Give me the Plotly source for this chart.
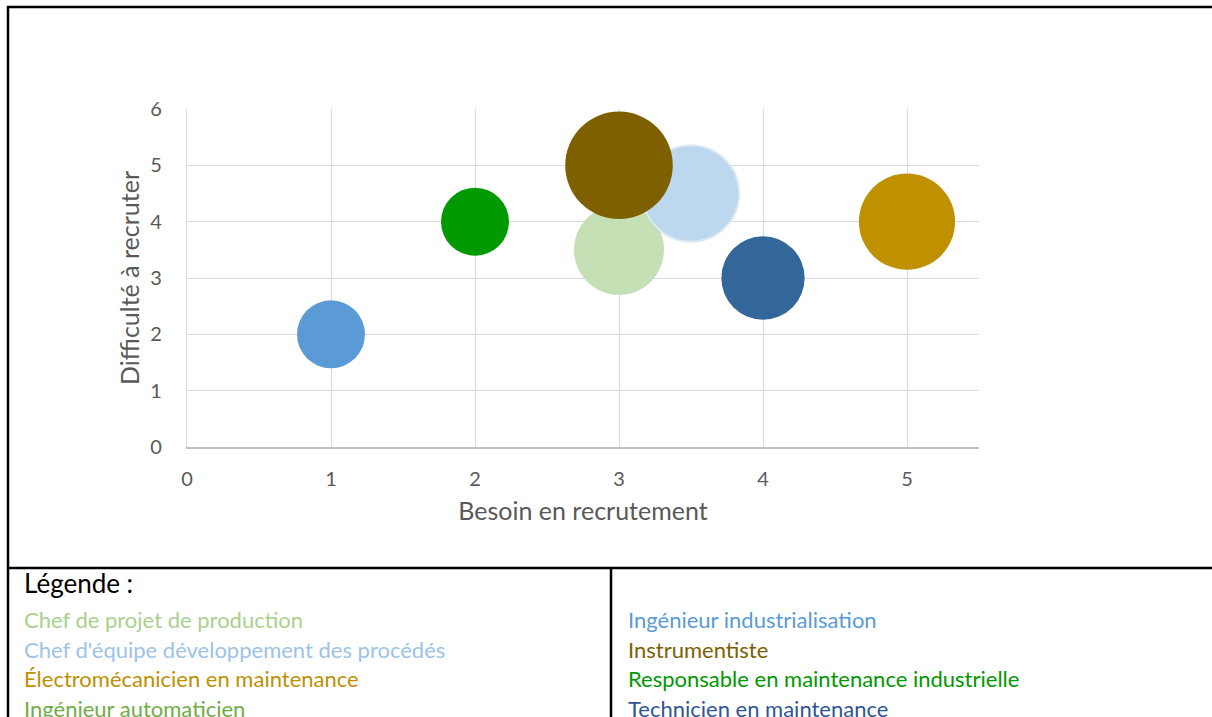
import plotly.graph_objects as go

# données
metiers = [
    "Chef de projet de production",
    "Chef d'équipe développement des procédés",
    "Électromécanicien en maintenance",
    "Ingénieur automaticien",
    "Ingénieur industrialisation",
    "Instrumentiste",
    "Responsable en maintenance industrielle",
    "Technicien en maintenance",
]
besoin = [3, 3.5, 5, 3, 1, 3, 2, 4]
difficulte = [3.5, 4.5, 4, 5, 2, 5, 4, 3]
taille = [3.5, 4, 4, 2, 2, 5, 2, 3]

couleurs_bulles = ["#C5E0B4", "#BDD7EE", "#BF9000", "#70AD47",
                   "#5B9BD5", "#7F6000", "#009900", "#336699"]
couleurs_texte = ["#A9D18E", "#9DC3E6", "#BF9000", "#70AD47",
                  "#5B9BD5", "#7F6000", "#009900", "#2F5597"]

W, H = 1212, 717
L, R, T, B = 187, 233, 109, 270
PW, PH = W - L - R, H - T - B


def px(x):
    return (x - L) / PW


def py(y):
    return (H - B - y) / PH


FONT = "Lato"
GRIS = "#595959"

fig = go.Figure()
for i, nom in enumerate(metiers):
    ligne = dict(width=0)
    if i == 1:
        ligne = dict(width=2, color="#DAE8F5")
    fig.add_trace(go.Scatter(
        x=[besoin[i]], y=[difficulte[i]],
        mode="markers",
        name=nom,
        marker=dict(size=[taille[i]], sizemode="area", sizeref=1 / 1156,
                    color=couleurs_bulles[i], opacity=1, line=ligne),
        hoverinfo="name",
    ))

# cadre du tableau
shapes = []
for x0, y0, x1, y1 in [(7, 7, 1215, 7), (8, 6, 8, 720), (8, 568, 1215, 568), (611, 568, 611, 720)]:
    shapes.append(dict(type="line", xref="paper", yref="paper",
                       x0=px(x0), y0=py(y0), x1=px(x1), y1=py(y1),
                       line=dict(color="black", width=2.5)))

# légende
annotations = [dict(text="Légende :", xref="paper", yref="paper",
                    x=px(22), y=py(583), xanchor="left", yanchor="middle",
                    showarrow=False, font=dict(family=FONT, size=26, color="black"))]
for i, nom in enumerate(metiers):
    col, row = divmod(i, 4)
    annotations.append(dict(
        text=nom, xref="paper", yref="paper",
        x=px(22 + col * 604), y=py(619.5 + row * 29.5),
        xanchor="left", yanchor="middle", showarrow=False,
        font=dict(family=FONT, size=22, color=couleurs_texte[i])))

fig.update_layout(
    width=W, height=H,
    margin=dict(l=L, r=R, t=T, b=B),
    paper_bgcolor="white", plot_bgcolor="white",
    showlegend=False,
    font=dict(family=FONT, color=GRIS),
    xaxis=dict(
        range=[0, 5.5], tickvals=[0, 1, 2, 3, 4, 5],
        showgrid=True, gridcolor="#D9D9D9", gridwidth=1.3,
        zeroline=False, showline=True, linecolor="#BFBFBF", linewidth=1.5,
        ticks="outside", ticklen=13, tickcolor="rgba(0,0,0,0)",
        tickfont=dict(size=20, color=GRIS),
        title=dict(text="Besoin en recrutement", font=dict(size=25, color=GRIS), standoff=14),
    ),
    yaxis=dict(
        range=[0, 6], tickvals=[0, 1, 2, 3, 4, 5, 6],
        showgrid=True, gridcolor="#D9D9D9", gridwidth=1.3,
        zeroline=False, showline=True, linecolor="#D9D9D9", linewidth=1.3,
        ticks="outside", ticklen=20, tickcolor="rgba(0,0,0,0)",
        tickfont=dict(size=20, color=GRIS),
        title=dict(text="Difficulté à recruter", font=dict(size=25, color=GRIS), standoff=3),
    ),
    shapes=shapes,
    annotations=annotations,
)

fig.write_html("out.html", config={"displayModeBar": False},
               post_script="document.body.style.margin='0';")
